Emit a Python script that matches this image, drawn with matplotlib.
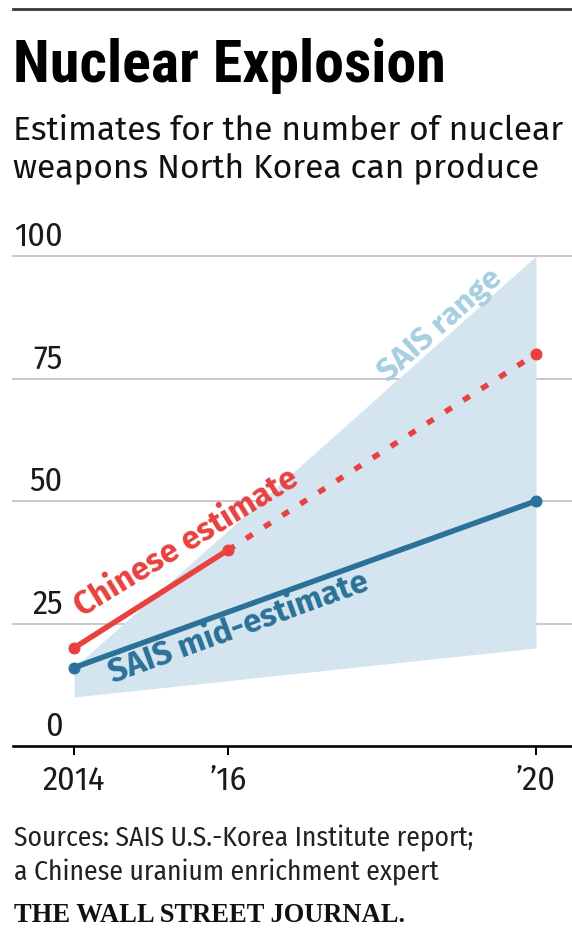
import matplotlib
matplotlib.use('Agg')
import matplotlib.pyplot as plt
from matplotlib.lines import Line2D

# data
years_cn = [2014, 2016, 2020]
chinese = [20, 40, 80]
years_sais = [2014, 2020]
sais_mid = [16, 50]
sais_low = [10, 20]
sais_high = [16, 100]
yticks = [0, 25, 50, 75, 100]
xticks = [2014, 2016, 2020]
xlabels = ['2014', '\u201916', '\u201920']

W, H = 572, 929
RED = '#e8413f'
BLUE = '#2b7198'
BAND = '#d4e5ef'
BAND_TXT = '#a5cfe1'
GRID = '#c4c4c4'
SANS = ['Fira Sans', 'DejaVu Sans']
NARROW = ['Fira Sans Condensed', 'DejaVu Sans']
COND = ['Roboto Condensed', 'DejaVu Sans']

plt.rcParams['font.family'] = SANS

fig = plt.figure(figsize=(W / 72, H / 72), dpi=72)

# axes: 2014 at x=74px, 2020 at x=536px, 0 at y=746px, 100 at y=256px
ax = fig.add_axes([13 / W, (H - 746) / H, (W - 13) / W, 490 / H])
ppy = (536 - 74) / 6
ax.set_xlim(2014 - (74 - 13) / ppy, 2020 + (572 - 536) / ppy)
ax.set_ylim(0, 100)
for s in ['top', 'right', 'left']:
    ax.spines[s].set_visible(False)
ax.spines['bottom'].set_linewidth(2.6)
ax.spines['bottom'].set_color('black')
ax.set_yticks([])

for v in yticks[1:]:
    ax.axhline(v, color=GRID, lw=1.8, zorder=0, clip_on=False)

ax.fill_between(years_sais, sais_low, sais_high, color=BAND, lw=0, zorder=1, clip_on=False)

# chinese estimate: solid then dotted
ax.plot(years_cn[:2], chinese[:2], color=RED, lw=5.5, solid_capstyle='round', zorder=3)
ax.plot(years_cn[1:], chinese[1:], color=RED, lw=5.5, ls=(0, (1.4, 2.5)), zorder=3)
ax.plot(years_cn, chinese, ls='none', marker='o', ms=11, color=RED, zorder=4, clip_on=False)

# SAIS mid-estimate
ax.plot(years_sais, sais_mid, color=BLUE, lw=5.5, marker='o', ms=11, zorder=5, clip_on=False)

ax.set_xticks(xticks, xlabels)
ax.tick_params(axis='x', length=9, width=2, color='black', pad=10,
               labelsize=34, labelcolor='#1a1a1a')
for lab in ax.get_xticklabels():
    lab.set_family(NARROW)

for v in yticks:
    ax.annotate(str(v), xy=(0, v), xycoords=('axes fraction', 'data'),
                xytext=(50, 10), textcoords='offset points', family=NARROW,
                ha='right', va='baseline', fontsize=34, color='#1a1a1a')

# line labels
ax.annotate('Chinese estimate', xy=(years_cn[0], chinese[0]), xytext=(8, 31),
            textcoords='offset points', rotation=31.5, rotation_mode='anchor',
            ha='left', va='baseline', fontsize=32.5, fontweight='bold', color=RED)
ax.annotate('SAIS mid-estimate', xy=(years_sais[0], sais_mid[0]), xytext=(39, -15),
            textcoords='offset points', rotation=20, rotation_mode='anchor',
            ha='left', va='baseline', fontsize=32.5, fontweight='bold', color=BLUE)
ax.annotate('SAIS range', xy=(years_sais[1], sais_high[1]), xytext=(-33, -24),
            textcoords='offset points', rotation=41.7, rotation_mode='anchor',
            ha='right', va='baseline', fontsize=31.5, fontweight='bold', color=BAND_TXT)

# header and footer
fig.add_artist(Line2D([13 / W, 1], [1 - 8.5 / H] * 2, color='#3a3a3a', lw=2.8))
fig.text(13 / W, 1 - 82 / H, 'Nuclear Explosion', fontsize=60, fontweight='bold',
         family=COND, va='baseline', color='black')
fig.text(13 / W, 1 - 140 / H, 'Estimates for the number of nuclear', fontsize=33.5,
         va='baseline', color='#111111')
fig.text(13 / W, 1 - 177 / H, 'weapons North Korea can produce', fontsize=33.5,
         va='baseline', color='#111111')
fig.text(14 / W, 1 - 846 / H, 'Sources: SAIS U.S.-Korea Institute report;', fontsize=27.5,
         family=NARROW, va='baseline', color='#222222')
fig.text(14 / W, 1 - 880 / H, 'a Chinese uranium enrichment expert', fontsize=27.5,
         family=NARROW, va='baseline', color='#222222')
fig.text(14 / W, 1 - 922 / H, 'THE WALL STREET JOURNAL.', fontsize=26.5, fontweight='bold',
         family=['Liberation Serif', 'DejaVu Serif'], va='baseline', color='#111111')

fig.savefig('out.png', dpi=72)
